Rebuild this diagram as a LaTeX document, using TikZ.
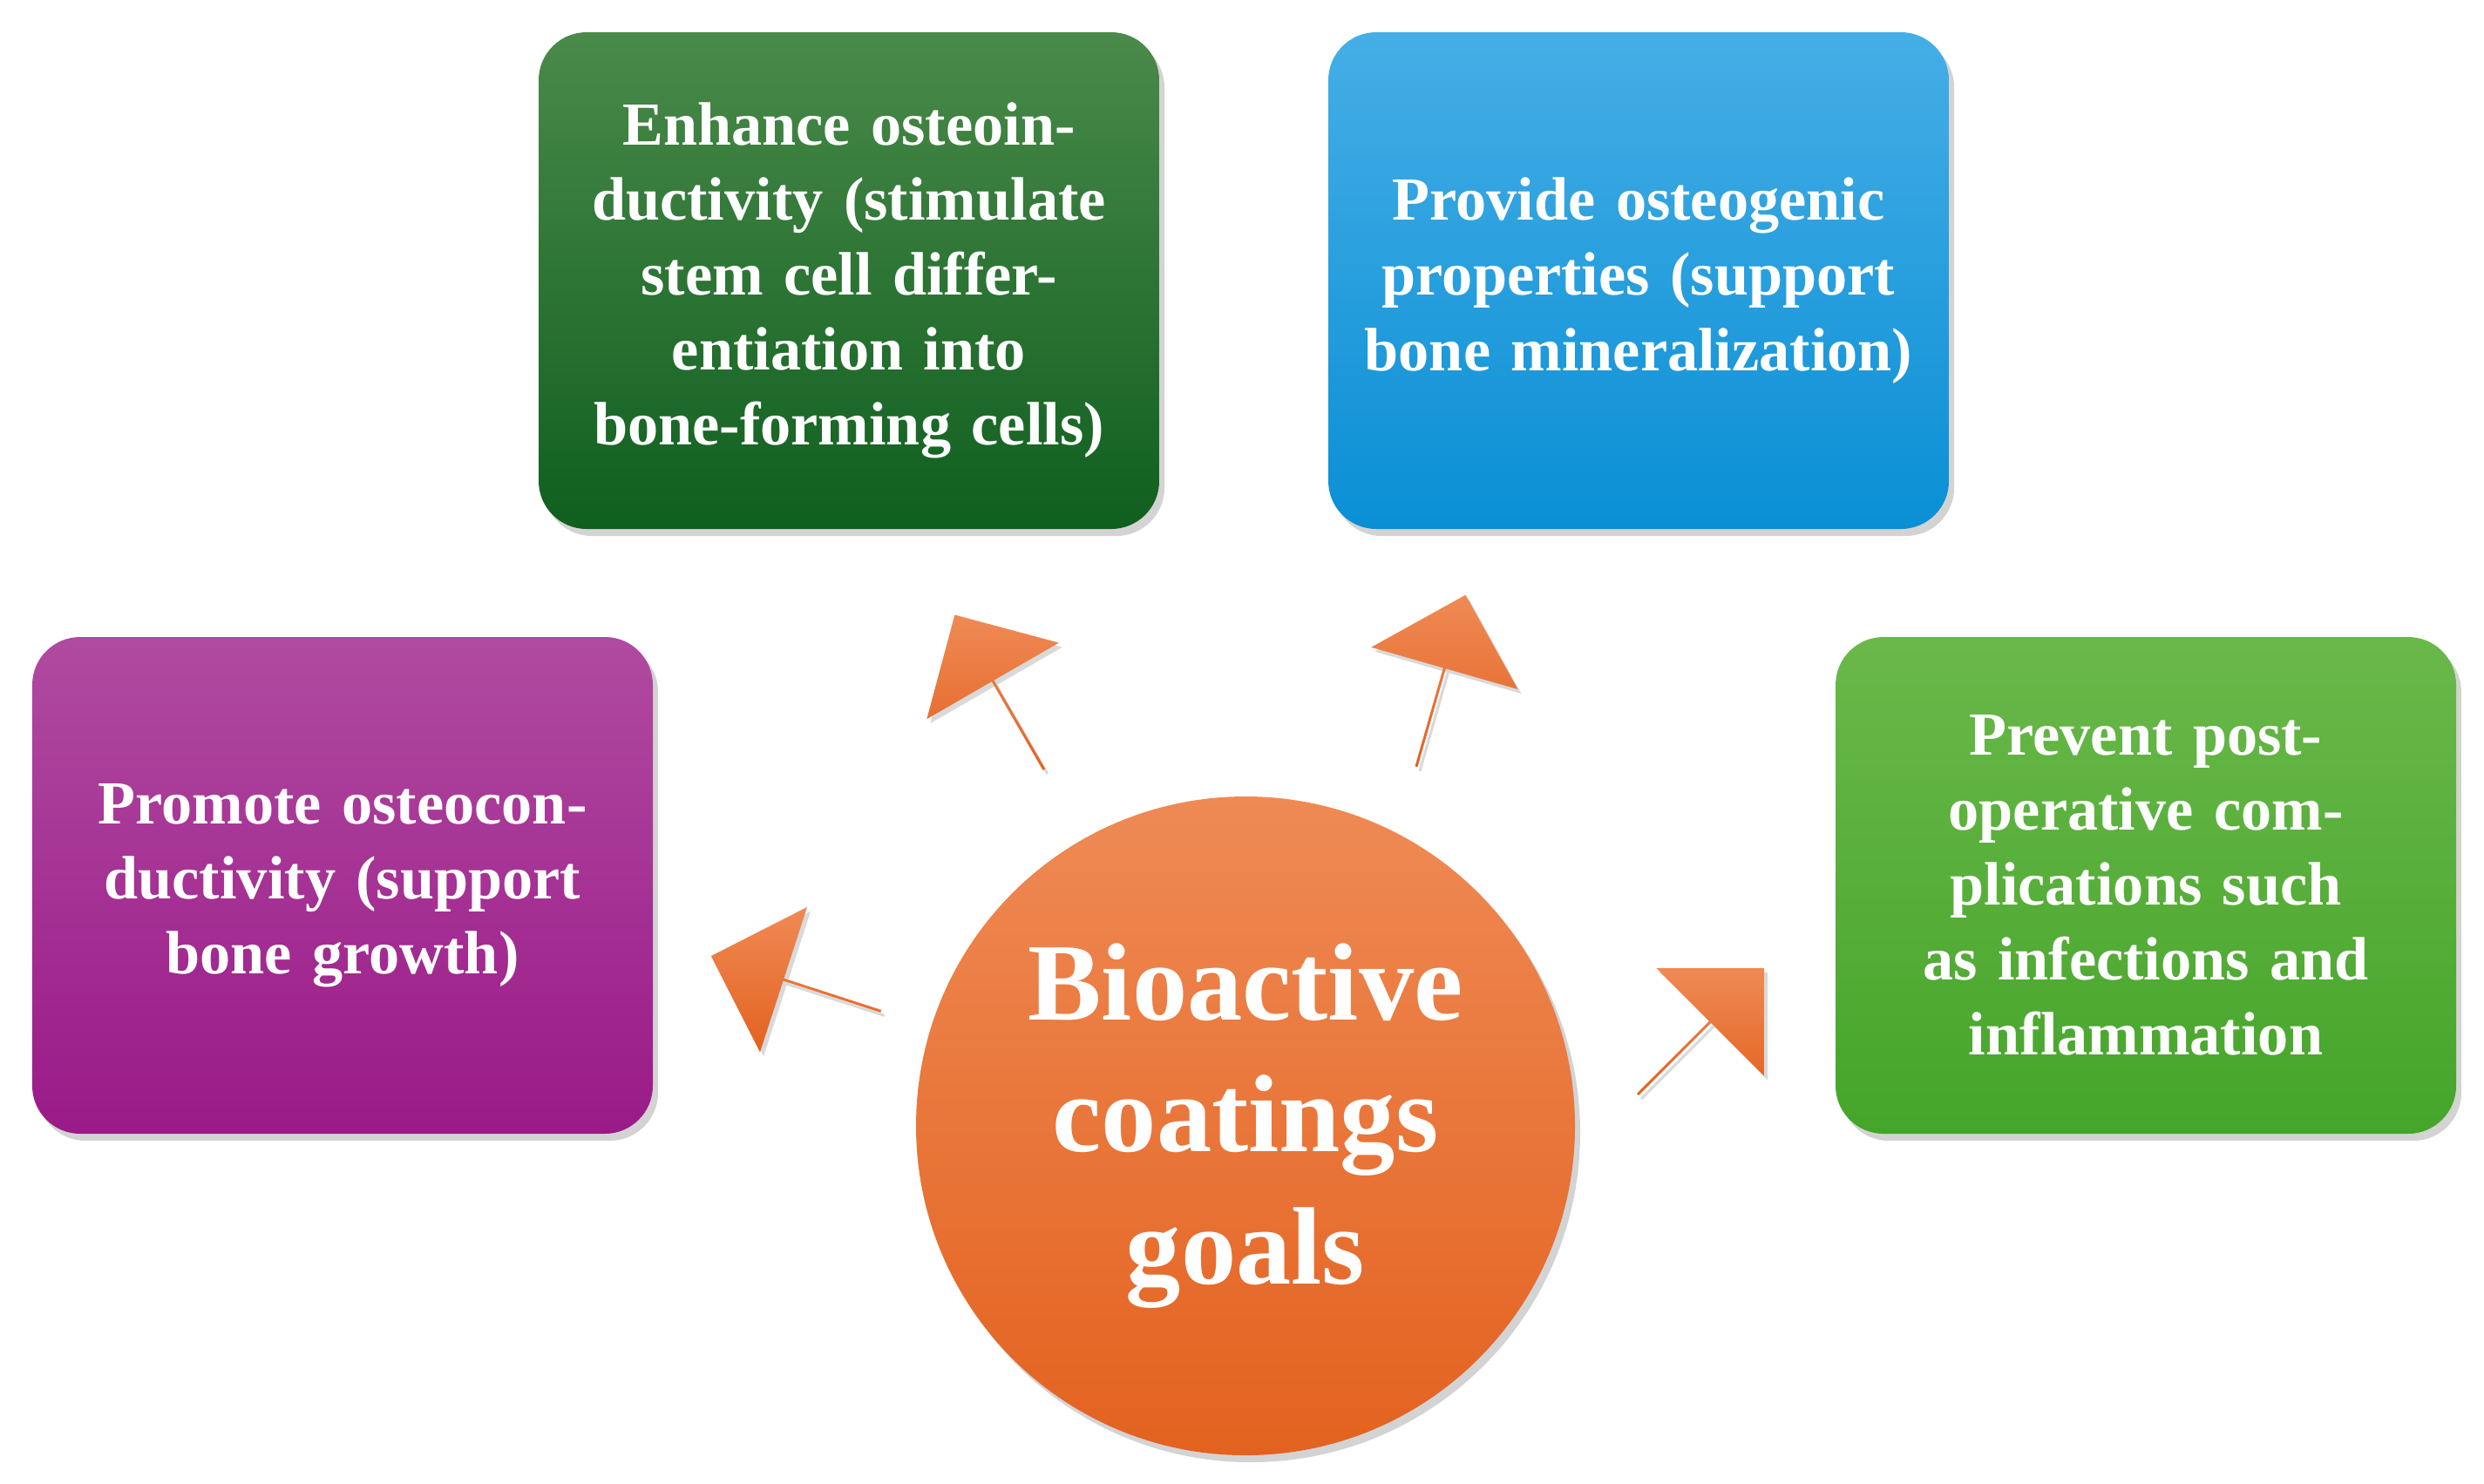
\documentclass[tikz,border=0pt]{standalone}
\usepackage{fontspec}
\setmainfont{Liberation Serif}
\usetikzlibrary{shapes.arrows,shadows}
\definecolor{orA}{HTML}{EF8A55}\definecolor{orB}{HTML}{E3621F}
\tikzset{
 goal/.style={rounded corners=0.55cm,minimum width=7.12cm,minimum height=5.7cm,
   text width=6.6cm,align=center,text=white,font=\bfseries\fontsize{20}{24.5}\selectfont,
   drop shadow={shadow xshift=0.06cm,shadow yshift=-0.08cm,opacity=0.35}},
 blockarrow/.style={single arrow,minimum height=2.05cm,minimum width=1.75cm,
   single arrow head extend=0.4cm,inner sep=0pt,top color=orA,bottom color=orB,
   drop shadow={shadow xshift=0.04cm,shadow yshift=-0.05cm,opacity=0.3}},
}
\begin{document}
\begin{tikzpicture}
\useasboundingbox (0,0) rectangle (28.5,-17.02);
\node[goal,top color={rgb,255:red,74;green,138;blue,74},bottom color={rgb,255:red,15;green,95;blue,31}] (g1) at (9.74,-3.22)
 {Enhance osteoinductivity (stimulate stem cell differentiation into bone-forming cells)};
\node[goal,top color={rgb,255:red,69;green,174;blue,230},bottom color={rgb,255:red,10;green,143;blue,213}] (g2) at (18.8,-3.22)
 {Provide osteogenic properties (support bone mineralization)};
\node[goal,top color={rgb,255:red,176;green,74;blue,160},bottom color={rgb,255:red,154;green,26;blue,136}] (g3) at (3.93,-10.16)
 {Promote osteoconductivity (support bone growth)};
\node[goal,top color={rgb,255:red,106;green,184;blue,74},bottom color={rgb,255:red,69;green,165;blue,42}] (g4) at (24.62,-10.16)
 {Prevent post-operative complications such as infections and inflammation};
\node[circle,minimum size=7.56cm,top color=orA,bottom color=orB,text=white,align=center,
  font=\bfseries\fontsize{36}{43}\selectfont,
  drop shadow={shadow xshift=0.06cm,shadow yshift=-0.08cm,opacity=0.35}] (c) at (14.29,-12.92)
 {Bioactive\\coatings\\goals};
\node[blockarrow,rotate=162] (a3) at (9.14,-11.29) {};
\node[blockarrow,rotate=120] (a1) at (11.47,-7.95) {};
\node[blockarrow,rotate=74] (a2) at (16.53,-7.82) {};
\node[blockarrow,rotate=45] (a4) at (19.51,-11.84) {};
\end{tikzpicture}
\end{document}
